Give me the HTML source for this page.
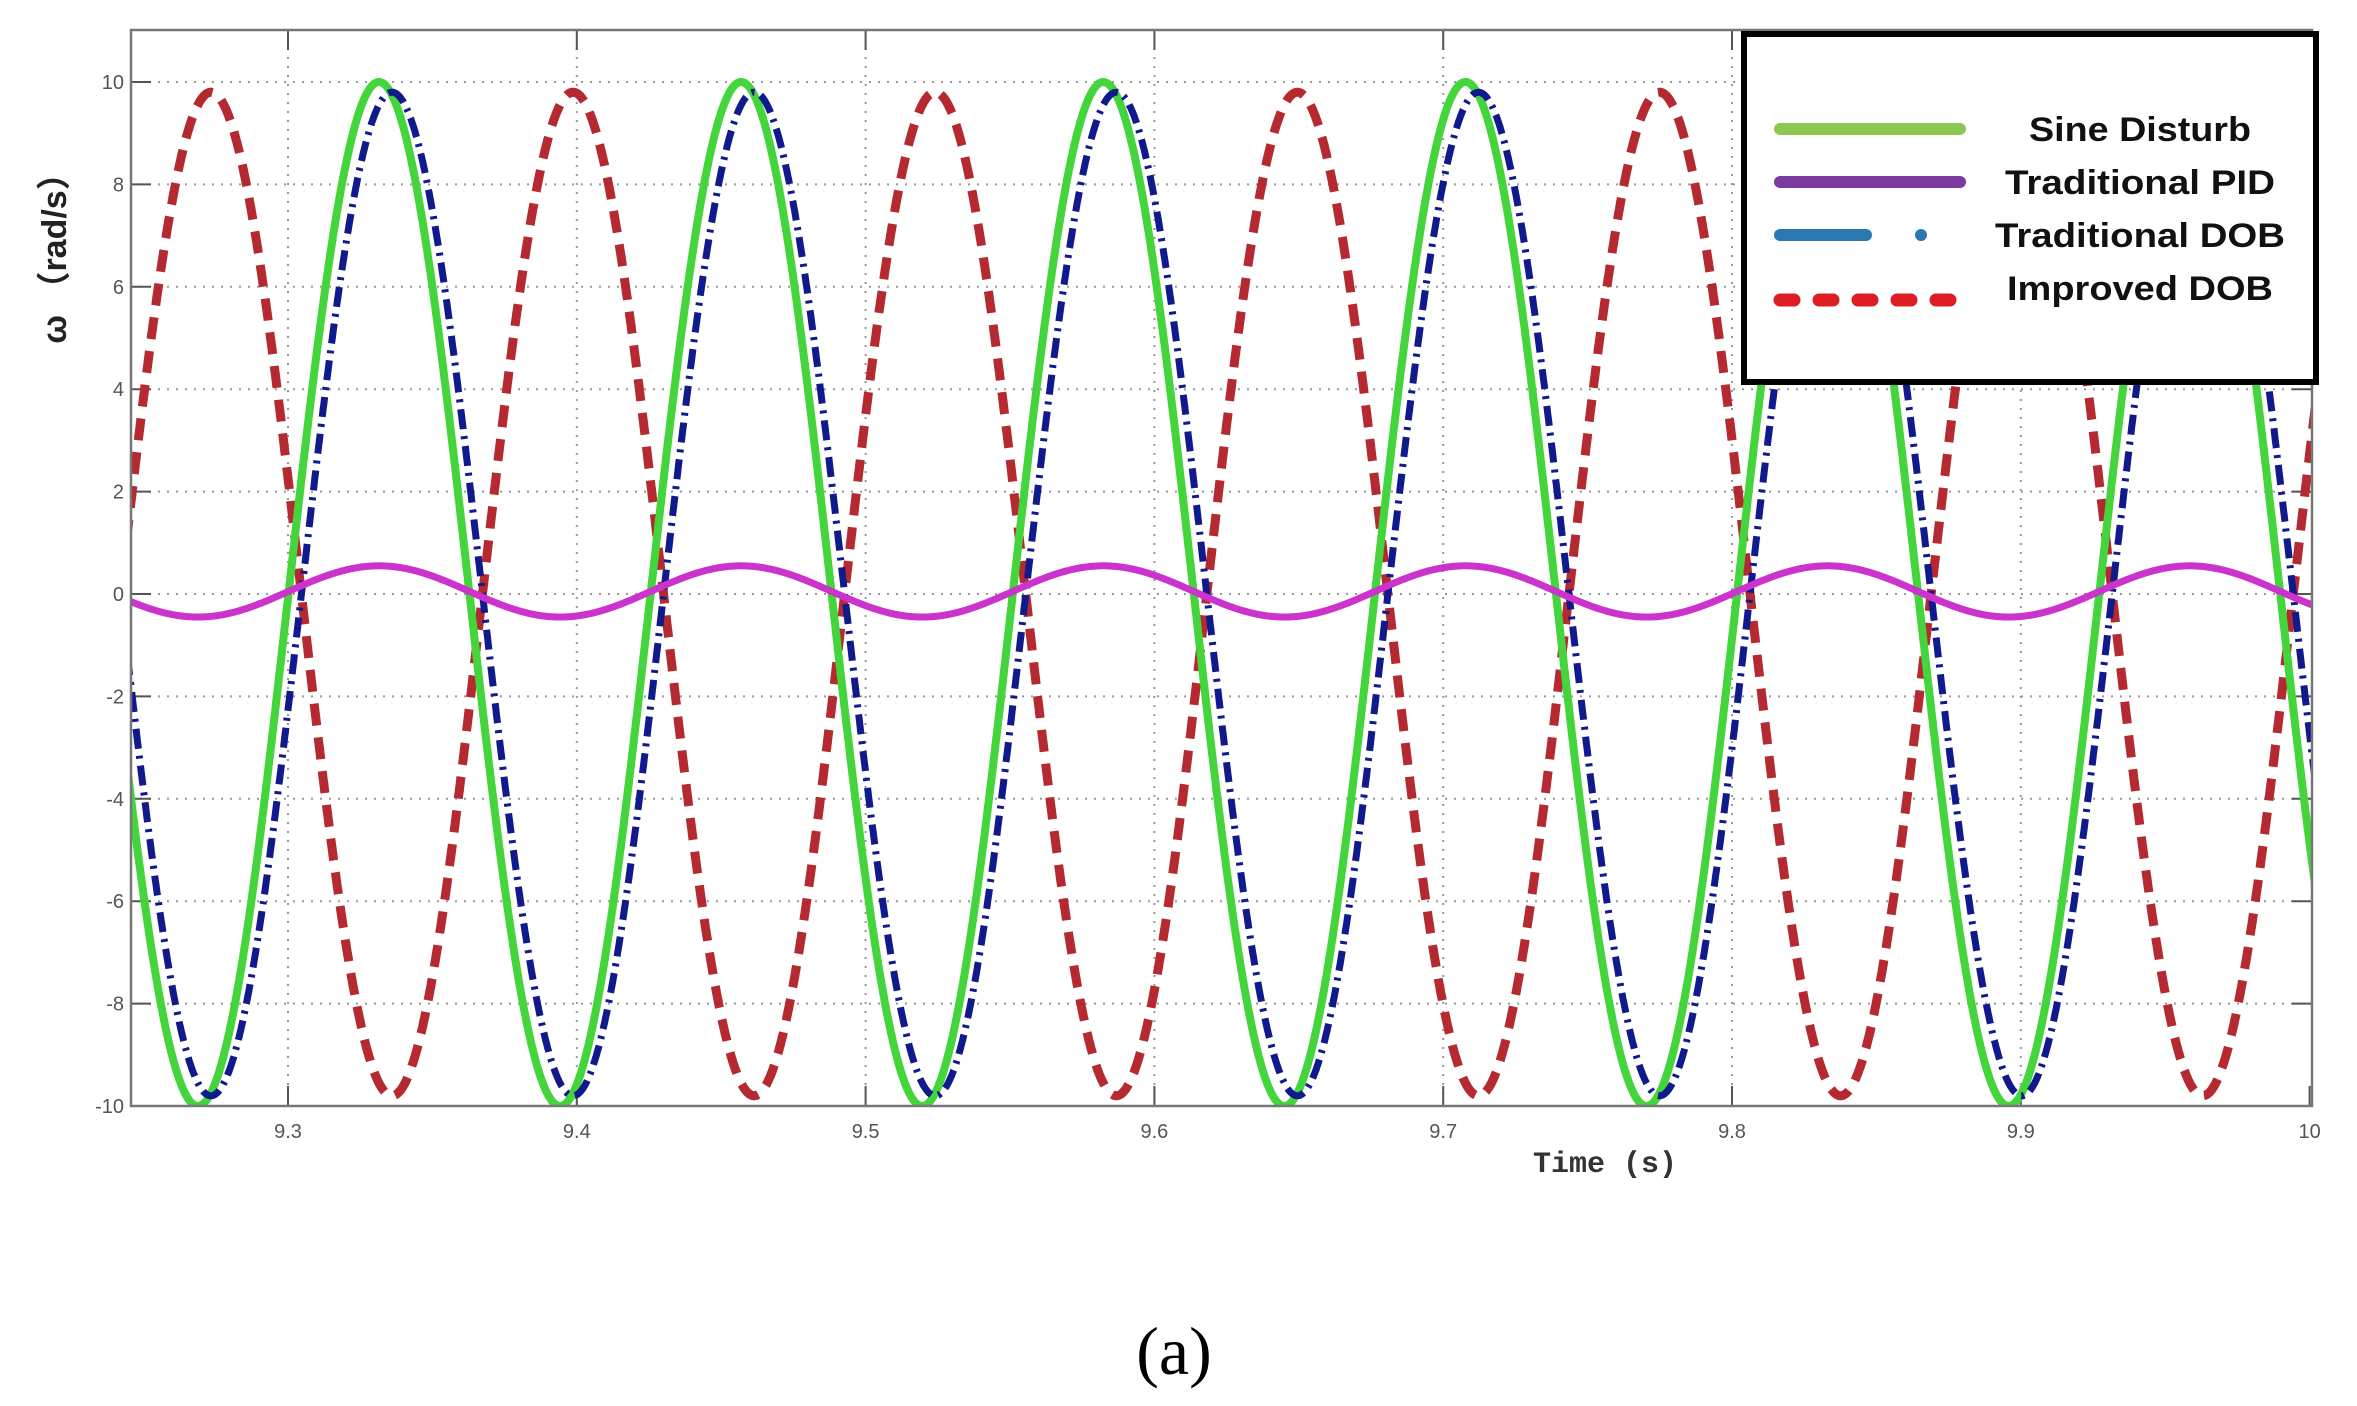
<!DOCTYPE html>
<html><head><meta charset="utf-8"><style>
html,body{margin:0;padding:0;background:#fff;}
svg{display:block}
</style></head><body>
<svg id="s" width="2357" height="1406" viewBox="0 0 2357 1406" xmlns="http://www.w3.org/2000/svg">
<defs><clipPath id="c"><rect x="131" y="30" width="2181" height="1076"/></clipPath></defs>
<rect width="2357" height="1406" fill="#fff"/>
<g id="grid" stroke="#999" stroke-width="2" stroke-dasharray="2,7"></g>
<g id="ticks" stroke="#555" stroke-width="2"></g>
<g id="series" clip-path="url(#c)" fill="none"></g>
<rect x="131" y="30" width="2181" height="1076" fill="none" stroke="#777" stroke-width="2.5"/>
<g id="labels" font-family="Liberation Sans, sans-serif" font-size="20" fill="#555"></g>
<text transform="translate(66,250) rotate(-90)" text-anchor="middle" font-family="Liberation Sans, 'Noto Sans CJK SC', sans-serif" font-size="34" font-weight="bold" fill="#222">ω （rad/s）</text>
<text x="1605" y="1172" text-anchor="middle" font-family="Liberation Mono, monospace" font-size="30" font-weight="bold" fill="#333">Time (s)</text>
<rect x="1744" y="34" width="572" height="348" fill="#fff" stroke="#000" stroke-width="6"/>
<line x1="1780" y1="129" x2="1960" y2="129" stroke="#8cc850" stroke-width="12" stroke-linecap="round"/>
<line x1="1780" y1="182" x2="1960" y2="182" stroke="#7a3aa0" stroke-width="12" stroke-linecap="round"/>
<line x1="1780" y1="235" x2="1866" y2="235" stroke="#2a78b0" stroke-width="12" stroke-linecap="round"/>
<circle cx="1921" cy="235" r="6" fill="#2a78b0"/>
<line x1="1780" y1="300" x2="1960" y2="300" stroke="#dd1c24" stroke-width="13" stroke-linecap="round" stroke-dasharray="14,25"/>
<g font-family="Liberation Sans, sans-serif" font-size="34" font-weight="bold" fill="#111" text-anchor="middle">
<text x="2140" y="141" textLength="222" lengthAdjust="spacingAndGlyphs">Sine Disturb</text>
<text x="2140" y="194" textLength="270" lengthAdjust="spacingAndGlyphs">Traditional PID</text>
<text x="2140" y="247" textLength="290" lengthAdjust="spacingAndGlyphs">Traditional DOB</text>
<text x="2140" y="300" textLength="266" lengthAdjust="spacingAndGlyphs">Improved DOB</text>
</g>
<text x="1174" y="1374" text-anchor="middle" font-family="Liberation Serif, serif" font-size="68" fill="#000">(a)</text>
<script>
(function(){
var NS="http://www.w3.org/2000/svg";
function X(t){return 288+(t-9.3)*2888;}
function Y(v){return 594-v*51.2;}
function el(n,a,p){var e=document.createElementNS(NS,n);for(var k in a)e.setAttribute(k,a[k]);p.appendChild(e);return e;}
var g=document.getElementById('grid'),tk=document.getElementById('ticks'),lb=document.getElementById('labels');
var xt=[9.3,9.4,9.5,9.6,9.7,9.8,9.9,10];
xt.forEach(function(t){var x=X(t);
 if(t<10)el('line',{x1:x,y1:30,x2:x,y2:1106},g);
 el('line',{x1:x,y1:1106,x2:x,y2:1086},tk);el('line',{x1:x,y1:30,x2:x,y2:50},tk);
 var tx=el('text',{x:x,y:1138,'text-anchor':'middle'},lb);tx.textContent=(t==10?'10':t.toFixed(1));});
for(var v=-10;v<=10;v+=2){var y=Y(v);
 if(v>-10)el('line',{x1:131,y1:y,x2:2312,y2:y},g);
 el('line',{x1:131,y1:y,x2:151,y2:y},tk);el('line',{x1:2312,y1:y,x2:2292,y2:y},tk);
 var tx=el('text',{x:124,y:y+7,'text-anchor':'end'},lb);tx.textContent=String(v);}
var T=0.1254,pk=9.3315,lag=0.0045,W=2*Math.PI/T;
function path(f){var d='';for(var i=0;i<=3000;i++){var t=9.24+i*(0.765/3000);d+=(i?'L':'M')+X(t).toFixed(1)+','+Y(f(t)).toFixed(1);}return d;}
var s=document.getElementById('series');
el('path',{d:path(function(t){return -9.8*Math.cos(W*(t-pk-lag));}),stroke:'#b52a30','stroke-width':9,'stroke-dasharray':'22,12'},s);
el('path',{d:path(function(t){return 10*Math.cos(W*(t-pk));}),stroke:'#44d43c','stroke-width':8},s);
el('path',{d:path(function(t){return 9.8*Math.cos(W*(t-pk-lag));}),stroke:'#101a8c','stroke-width':7,'stroke-dasharray':'20,7,3,7'},s);
el('path',{d:path(function(t){return 0.05+0.5*Math.cos(W*(t-pk));}),stroke:'#cc33cc','stroke-width':7},s);
})();
</script>
</svg>
</body></html>
